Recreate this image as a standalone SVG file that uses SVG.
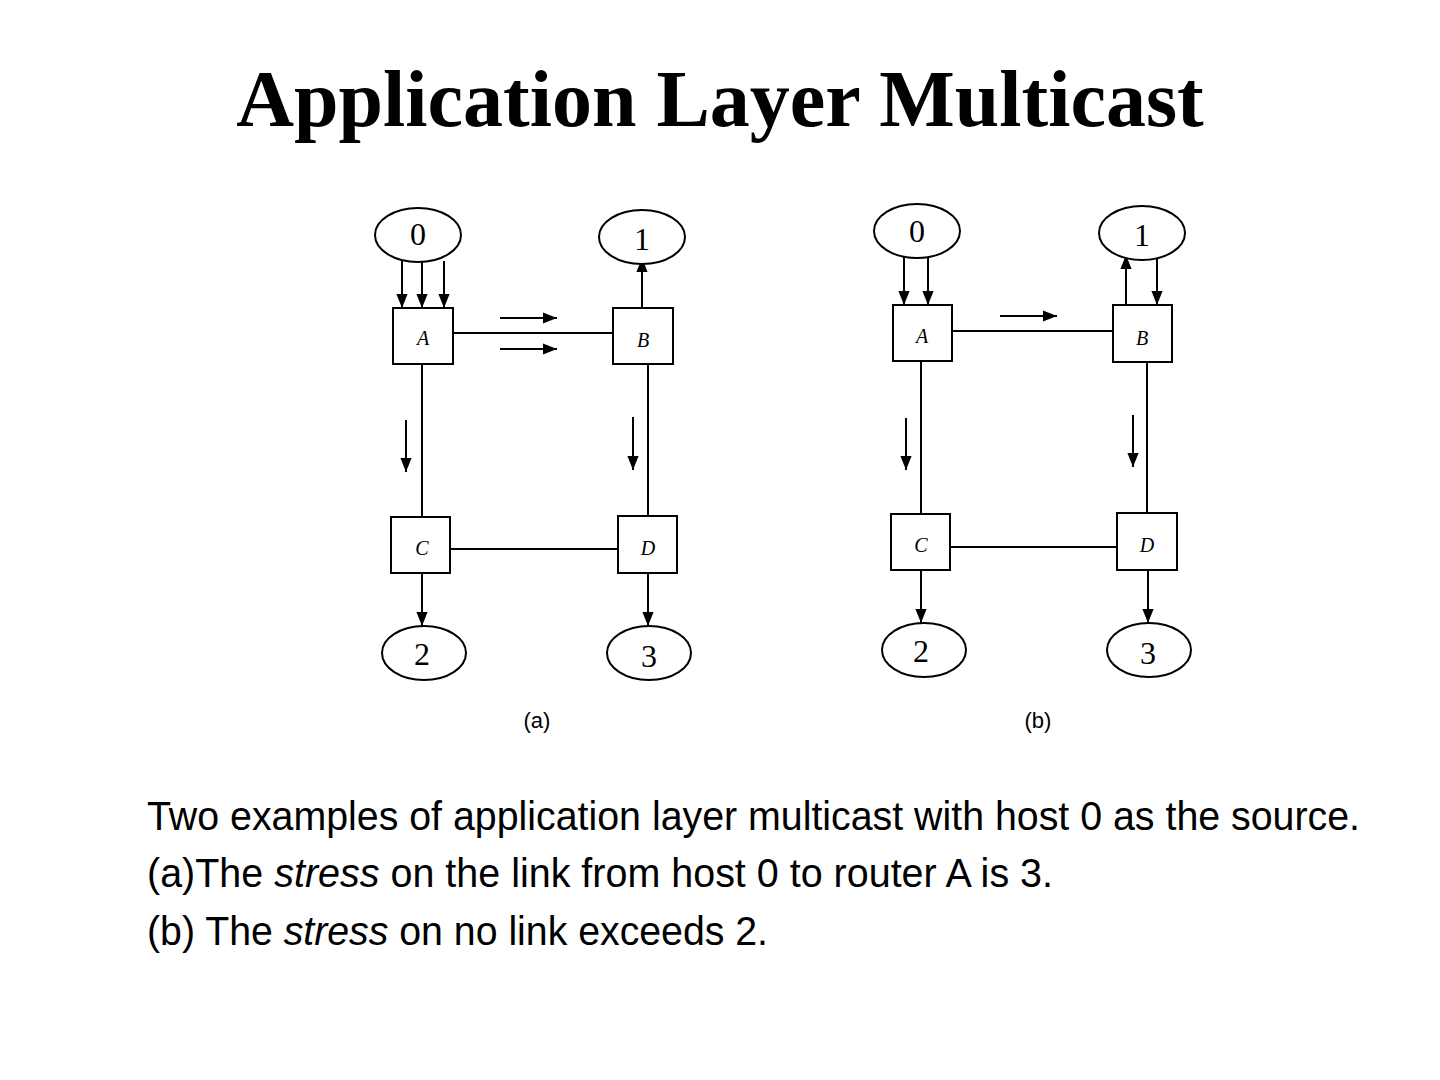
<svg xmlns="http://www.w3.org/2000/svg" width="1440" height="1080" viewBox="0 0 1440 1080">
<style>
.n{fill:#fff;stroke:#000;stroke-width:2}
.l{stroke:#000;stroke-width:2;fill:none}
.a{stroke:#000;stroke-width:2;fill:none;marker-end:url(#ah)}
.num{font-family:"Liberation Serif",serif;font-size:32px;text-anchor:middle}
.rl{font-family:"Liberation Serif",serif;font-style:italic;font-size:20px;text-anchor:middle}
.cap{font-family:"Liberation Sans",sans-serif;font-size:22px;text-anchor:middle}
.body{font-family:"Liberation Sans",sans-serif;font-size:40px}
</style>
<defs><marker id="ah" viewBox="0 0 10 10" refX="10" refY="5" markerWidth="8" markerHeight="8" markerUnits="userSpaceOnUse" orient="auto"><path d="M0,0L10,5L0,10z"/></marker>
<marker id="ah2" viewBox="0 0 10 10" refX="10" refY="5" markerWidth="14" markerHeight="14" markerUnits="userSpaceOnUse" orient="auto"><path d="M0,1L10,5L0,9z"/></marker></defs>
<rect width="1440" height="1080" fill="#fff"/>
<text x="720" y="126" font-family="Liberation Serif,serif" font-weight="bold" font-size="80" text-anchor="middle">Application Layer Multicast</text>
<g id="connectors" stroke="#000" stroke-width="2">
<g style="marker-end:url(#ah2)">
<line x1="402" y1="261" x2="402" y2="308"/><line x1="422" y1="262" x2="422" y2="308"/><line x1="444" y1="261" x2="444" y2="308"/>
<line x1="500" y1="318" x2="557" y2="318"/><line x1="500" y1="349" x2="557" y2="349"/>
<line x1="642" y1="308" x2="642" y2="258"/>
<line x1="406" y1="420" x2="406" y2="472"/><line x1="633" y1="417" x2="633" y2="470"/>
<line x1="422" y1="573" x2="422" y2="626"/><line x1="648" y1="573" x2="648" y2="626"/>
<line x1="904" y1="257" x2="904" y2="305"/><line x1="928" y1="258" x2="928" y2="305"/>
<line x1="1000" y1="316" x2="1057" y2="316"/>
<line x1="1126" y1="305" x2="1126" y2="255"/><line x1="1157" y1="258" x2="1157" y2="305"/>
<line x1="906" y1="418" x2="906" y2="470"/><line x1="1133" y1="415" x2="1133" y2="467"/>
<line x1="921" y1="570" x2="921" y2="623"/><line x1="1148" y1="570" x2="1148" y2="623"/>
</g>
<line x1="453" y1="333" x2="613" y2="333"/><line x1="422" y1="364" x2="422" y2="517"/><line x1="648" y1="364" x2="648" y2="516"/><line x1="450" y1="549" x2="618" y2="549"/>
<line x1="952" y1="331" x2="1113" y2="331"/><line x1="921" y1="361" x2="921" y2="514"/><line x1="1147" y1="362" x2="1147" y2="513"/><line x1="950" y1="547" x2="1117" y2="547"/>
</g>
<g id="a-h0"><ellipse class="n" cx="418" cy="235" rx="43" ry="27"/><text class="num" x="418" y="245">0</text></g>
<g id="a-h1"><ellipse class="n" cx="642" cy="237" rx="43" ry="27"/><text class="num" x="642" y="250">1</text></g>
<g id="a-h2"><ellipse class="n" cx="424" cy="653" rx="42" ry="27"/><text class="num" x="422" y="665">2</text></g>
<g id="a-h3"><ellipse class="n" cx="649" cy="653" rx="42" ry="27"/><text class="num" x="649" y="667">3</text></g>
<g id="a-A"><rect class="n" x="393" y="308" width="60" height="56"/><text class="rl" x="423" y="345">A</text></g>
<g id="a-B"><rect class="n" x="613" y="308" width="60" height="56"/><text class="rl" x="643" y="347">B</text></g>
<g id="a-C"><rect class="n" x="391" y="517" width="59" height="56"/><text class="rl" x="422" y="555">C</text></g>
<g id="a-D"><rect class="n" x="618" y="516" width="59" height="57"/><text class="rl" x="648" y="555">D</text></g>
<text class="cap" x="537" y="728">(a)</text>
<g id="b-h0"><ellipse class="n" cx="917" cy="231" rx="43" ry="27"/><text class="num" x="917" y="242">0</text></g>
<g id="b-h1"><ellipse class="n" cx="1142" cy="233" rx="43" ry="27"/><text class="num" x="1142" y="246">1</text></g>
<g id="b-h2"><ellipse class="n" cx="924" cy="650" rx="42" ry="27"/><text class="num" x="921" y="662">2</text></g>
<g id="b-h3"><ellipse class="n" cx="1149" cy="650" rx="42" ry="27"/><text class="num" x="1148" y="664">3</text></g>
<g id="b-A"><rect class="n" x="893" y="305" width="59" height="56"/><text class="rl" x="922" y="343">A</text></g>
<g id="b-B"><rect class="n" x="1113" y="305" width="59" height="57"/><text class="rl" x="1142" y="345">B</text></g>
<g id="b-C"><rect class="n" x="891" y="514" width="59" height="56"/><text class="rl" x="921" y="552">C</text></g>
<g id="b-D"><rect class="n" x="1117" y="513" width="60" height="57"/><text class="rl" x="1147" y="552">D</text></g>
<text class="cap" x="1038" y="728">(b)</text>
<text class="body" x="147" y="830" textLength="1213" lengthAdjust="spacingAndGlyphs">Two examples of application layer multicast with host 0 as the source.</text>
<text class="body" x="147" y="887" textLength="906" lengthAdjust="spacingAndGlyphs">(a)The <tspan font-style="italic">stress</tspan> on the link from host 0 to router A is 3.</text>
<text class="body" x="147" y="945" textLength="621" lengthAdjust="spacingAndGlyphs">(b) The <tspan font-style="italic">stress</tspan> on no link exceeds 2.</text>
</svg>
